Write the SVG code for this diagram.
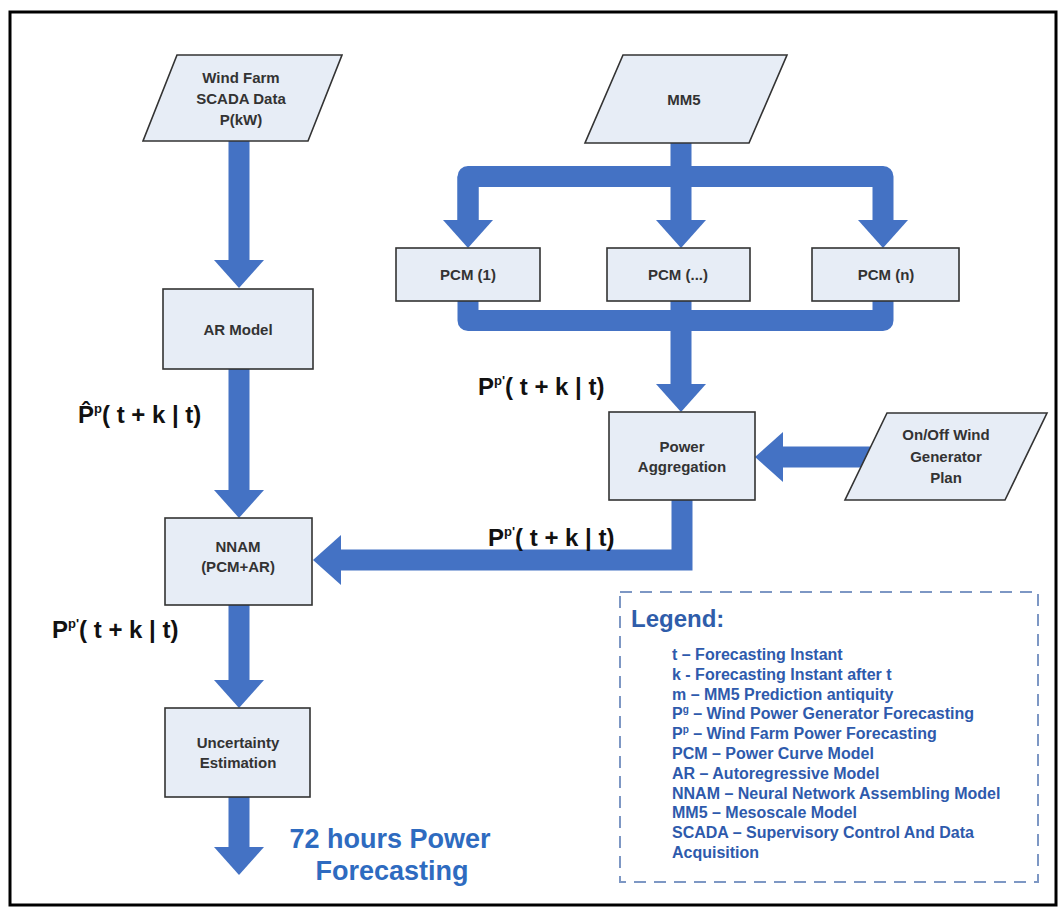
<svg xmlns="http://www.w3.org/2000/svg" width="1064" height="916" viewBox="0 0 1064 916">
  <defs>
    <style>
      .frame { fill: #ffffff; stroke: #000000; stroke-width: 3; }
      .node { fill: #e7edf6; stroke: #333333; stroke-width: 1.6; }
      .ntxt { font-family: "Liberation Sans", Arial, sans-serif; font-size: 15px; font-weight: bold; fill: #333333; text-anchor: middle; }
      .flow { fill: none; stroke: #4472c4; stroke-width: 21; }
      .lbl { font-family: "Liberation Sans", Arial, sans-serif; font-size: 24px; font-weight: bold; fill: #111111; }
      .sup { font-size: 13px; }
      .legend { fill: none; stroke: #7d97c4; stroke-width: 2; stroke-dasharray: 12 8; }
      .legh { font-family: "Liberation Sans", Arial, sans-serif; font-size: 24px; font-weight: bold; fill: #2f5daa; }
      .legt { font-family: "Liberation Sans", Arial, sans-serif; font-size: 16px; font-weight: bold; fill: #2e5aac; }
      .out { font-family: "Liberation Sans", Arial, sans-serif; font-size: 27px; font-weight: bold; fill: #2e6bc0; text-anchor: middle; }
    </style>
    <marker id="head" viewBox="0 0 28 50" refX="0" refY="25" markerWidth="28" markerHeight="50" markerUnits="userSpaceOnUse" orient="auto">
      <path d="M0,0 L28,25 L0,50 Z" fill="#4472c4"/>
    </marker>
  </defs>

  <!-- outer frame -->
  <rect class="frame" x="10" y="12" width="1046" height="893"/>

  <!-- connectors -->
  <g id="connectors">
    <path class="flow" d="M239,141 V260" marker-end="url(#head)"/>
    <path class="flow" d="M239,369 V490" marker-end="url(#head)"/>
    <path class="flow" d="M239,605 V680" marker-end="url(#head)"/>
    <path class="flow" d="M239,797 V847" marker-end="url(#head)"/>
    <!-- MM5 split to the power curve models -->
    <path class="flow" d="M468,220 V176.5 H883 V220" stroke-linejoin="round" marker-end="url(#head)"/>
    <path class="flow" d="M468,176.5 V220" marker-end="url(#head)"/>
    <path class="flow" d="M681,143 V220" marker-end="url(#head)"/>
    <!-- PCM outputs merged -->
    <path class="flow" d="M468,301 V320.5 H883 V301" stroke-linejoin="round"/>
    <path class="flow" d="M681,301 V384" marker-end="url(#head)"/>
    <!-- aggregation to NNAM -->
    <path class="flow" d="M682,500 V560 H341" marker-end="url(#head)"/>
    <!-- on/off plan to aggregation -->
    <path class="flow" d="M870,457 H783" marker-end="url(#head)"/>
  </g>

  <!-- nodes -->
  <g id="scada">
    <polygon class="node" points="177,55 342,55 308,141 143,141"/>
    <text class="ntxt" x="241" y="83" font-size="16">Wind Farm</text>
    <text class="ntxt" x="241" y="104" font-size="16">SCADA Data</text>
    <text class="ntxt" x="241" y="125" font-size="16">P(kW)</text>
  </g>
  <g id="mm5">
    <polygon class="node" points="623,55 787,55 749,143 585,143"/>
    <text class="ntxt" x="684" y="105">MM5</text>
  </g>
  <g id="pcm1">
    <rect class="node" x="396" y="248" width="144" height="53"/>
    <text class="ntxt" x="468" y="280">PCM (1)</text>
  </g>
  <g id="pcm-mid">
    <rect class="node" x="607" y="248" width="143" height="53"/>
    <text class="ntxt" x="678" y="280">PCM (...)</text>
  </g>
  <g id="pcmn">
    <rect class="node" x="812" y="248" width="147" height="53"/>
    <text class="ntxt" x="886" y="280">PCM (n)</text>
  </g>
  <g id="ar">
    <rect class="node" x="163" y="289" width="150" height="80"/>
    <text class="ntxt" x="238" y="335">AR Model</text>
  </g>
  <g id="aggregation">
    <rect class="node" x="609" y="412" width="146" height="88"/>
    <text class="ntxt" x="682" y="452">Power</text>
    <text class="ntxt" x="682" y="472">Aggregation</text>
  </g>
  <g id="onoff">
    <polygon class="node" points="887,413 1047,413 1005,500 845,500"/>
    <text class="ntxt" x="946" y="440" font-size="16">On/Off Wind</text>
    <text class="ntxt" x="946" y="462" font-size="16">Generator</text>
    <text class="ntxt" x="946" y="483" font-size="16">Plan</text>
  </g>
  <g id="nnam">
    <rect class="node" x="165" y="518" width="147" height="87"/>
    <text class="ntxt" x="238" y="552">NNAM</text>
    <text class="ntxt" x="238" y="572">(PCM+AR)</text>
  </g>
  <g id="uncertainty">
    <rect class="node" x="165" y="708" width="145" height="89"/>
    <text class="ntxt" x="238" y="748">Uncertainty</text>
    <text class="ntxt" x="238" y="768">Estimation</text>
  </g>

  <!-- signal labels -->
  <g id="labels">
    <text class="lbl" x="78" y="423">P&#x302;<tspan class="sup" dy="-10">p</tspan><tspan dy="10">( t + k | t)</tspan></text>
    <text class="lbl" x="478" y="395">P<tspan class="sup" dy="-10">p'</tspan><tspan dy="10">( t + k | t)</tspan></text>
    <text class="lbl" x="488" y="546">P<tspan class="sup" dy="-10">p'</tspan><tspan dy="10">( t + k | t)</tspan></text>
    <text class="lbl" x="52" y="638">P<tspan class="sup" dy="-10">p'</tspan><tspan dy="10">( t + k | t)</tspan></text>
  </g>

  <!-- final output -->
  <g id="output">
    <text class="out" x="390" y="848">72 hours Power</text>
    <text class="out" x="392" y="880">Forecasting</text>
  </g>

  <!-- legend -->
  <g id="legend">
    <rect class="legend" x="620" y="592" width="418" height="290"/>
    <text class="legh" x="631" y="627">Legend:</text>
    <text class="legt" x="672" y="660">t – Forecasting Instant</text>
    <text class="legt" x="672" y="680">k - Forecasting Instant after t</text>
    <text class="legt" x="672" y="700">m – MM5 Prediction antiquity</text>
    <text class="legt" x="672" y="719">P<tspan font-size="10" dy="-6">g</tspan><tspan dy="6"> – Wind Power Generator Forecasting</tspan></text>
    <text class="legt" x="672" y="739">P<tspan font-size="10" dy="-6">p</tspan><tspan dy="6"> – Wind Farm Power Forecasting</tspan></text>
    <text class="legt" x="672" y="759">PCM – Power Curve Model</text>
    <text class="legt" x="672" y="779">AR – Autoregressive Model</text>
    <text class="legt" x="672" y="799">NNAM – Neural Network Assembling Model</text>
    <text class="legt" x="672" y="818">MM5 – Mesoscale Model</text>
    <text class="legt" x="672" y="838">SCADA – Supervisory Control And Data</text>
    <text class="legt" x="672" y="858">Acquisition</text>
  </g>
</svg>
